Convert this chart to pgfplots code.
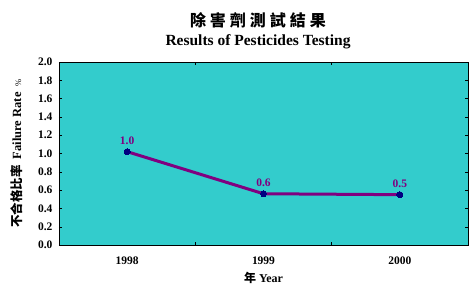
\documentclass[border=0pt]{standalone}
\usepackage{pgfplots}
\pgfplotsset{compat=1.18}
\usepackage{fontspec}
\setmainfont{Liberation Serif}
\newfontfamily\cjk{Noto Sans CJK TC}
\definecolor{bgc}{HTML}{33CCCC}
\definecolor{linec}{HTML}{800080}
\definecolor{markc}{HTML}{000080}
\begin{document}
\begin{tikzpicture}[x=1pt,y=1pt]
\path[use as bounding box] (-59,-47) rectangle (415,245);
\begin{axis}[
  at={(0,0)}, anchor=south west,
  scale only axis, width=409pt, height=183pt,
  xmin=-0.5, xmax=2.5, ymin=0, ymax=2,
  axis background/.style={fill=bgc},
  xtick={0.5,1.5}, xticklabels={},
  extra x ticks={0,1,2}, extra x tick labels={1998,1999,2000},
  extra x tick style={major tick length=0pt, tick label style={yshift=-8pt}},
  ytick={0,0.2,...,2.0},
  yticklabel style={xshift=-3pt, /pgf/number format/.cd,fixed,fixed zerofill,precision=1},
  /pgf/number format/assume math mode=true,
  tick label style={font=\bfseries\fontsize{11.5}{12}\selectfont},
  major tick length=3pt,
  tick style={black, thin},
  axis line style={black, thin},
  xlabel={{\cjk\bfseries 年}\ \textbf{Year}},
  xlabel style={font=\fontsize{12}{13}\selectfont, yshift=-1pt},
  ylabel={{\cjk\bfseries 不合格比率}\ \ \textbf{Failure Rate}\ \ {\fontsize{8.5}{9}\selectfont\%}},
  ylabel style={font=\fontsize{12.5}{13}\selectfont, yshift=9pt},
  nodes near coords,
  point meta=explicit symbolic,
  nodes near coords style={font=\bfseries\fontsize{11.5}{12}\selectfont, text=linec, anchor=south, yshift=4pt},
  clip=false,
]
\addplot[color=linec, line width=3pt, mark=*, mark size=3pt,
  mark options={fill=markc, draw=markc, line width=0pt}]
  coordinates {(0,1.02)[1.0] (1,0.56)[0.6] (2,0.55)[0.5]};
\end{axis}
\node[font=\cjk\bfseries\fontsize{16}{18}\selectfont] at (199,225) {除\hspace{4pt}害\hspace{4pt}劑\hspace{4pt}測\hspace{4pt}試\hspace{4pt}結\hspace{4pt}果};
\node[font=\bfseries\fontsize{15.5}{17}\selectfont] at (199,203) {Results of Pesticides Testing};
\end{tikzpicture}
\end{document}
